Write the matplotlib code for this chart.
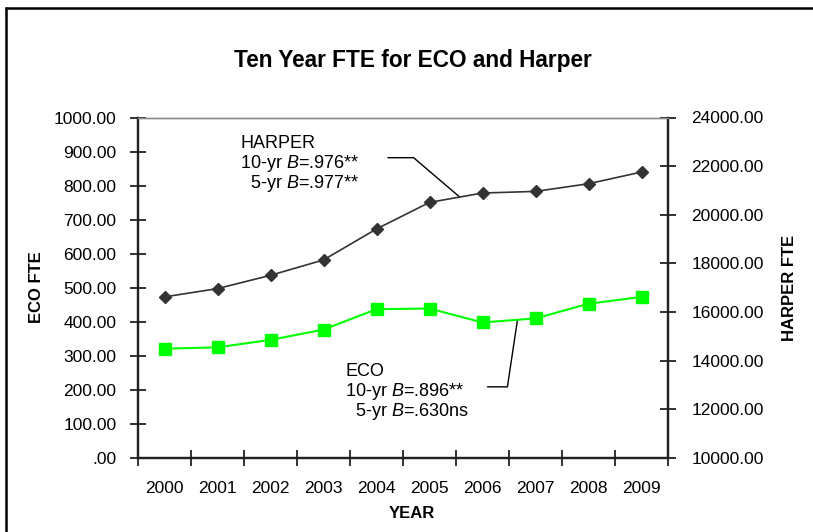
import matplotlib
matplotlib.use("Agg")
import matplotlib.pyplot as plt
from matplotlib.ticker import FuncFormatter, FixedLocator
from matplotlib.lines import Line2D
import numpy as np

plt.rcParams['font.family'] = ['Liberation Sans', 'DejaVu Sans']
plt.rcParams['mathtext.fontset'] = 'custom'
plt.rcParams['mathtext.rm'] = 'Liberation Sans'
plt.rcParams['mathtext.it'] = 'Liberation Sans:italic'

# ---- data ----
years = ['2000', '2001', '2002', '2003', '2004', '2005', '2006', '2007', '2008', '2009']
eco_fte = [321, 325, 347, 377, 437, 439, 398, 410, 453, 473]
harper_fte = [16624, 16965, 17511, 18144, 19417, 20509, 20895, 20961, 21277, 21758]
eco_ticks = [0, 100, 200, 300, 400, 500, 600, 700, 800, 900, 1000]
harper_ticks = [10000, 12000, 14000, 16000, 18000, 20000, 22000, 24000]
title = 'Ten Year FTE for ECO and Harper'
harper_note = ['HARPER', '10-yr $\\mathit{B}$=.976**', '  5-yr $\\mathit{B}$=.977**']
eco_note = ['ECO', '10-yr $\\mathit{B}$=.896**', '  5-yr $\\mathit{B}$=.630ns']

W, H = 813, 532
fig = plt.figure(figsize=(W / 100, H / 100), dpi=100)
ax_l, ax_r, ax_t, ax_b = 138, 668, 117.5, 458
ax = fig.add_axes([ax_l / W, 1 - ax_b / H, (ax_r - ax_l) / W, (ax_b - ax_t) / H])
ax2 = ax.twinx()

x = np.arange(len(years))

def fmt(v, pos=None):
    s = f"{v:.2f}"
    if s.startswith("0."):
        s = s[1:]
    return s

# ECO (left axis)
ax.plot(x, eco_fte, color='#00ff00', lw=1.5, marker='s', ms=8,
        markerfacecolor='#00ff00', markeredgecolor='#00ff00', zorder=3)
# Harper (right axis)
ax2.plot(x, harper_fte, color='#333333', lw=1.2, marker='D', ms=6.5,
         markerfacecolor='#333333', markeredgecolor='#333333', zorder=3)

ax.set_xlim(-0.5, len(years) - 0.5)
ax.set_ylim(eco_ticks[0], eco_ticks[-1])
ax2.set_ylim(harper_ticks[0], harper_ticks[-1])
ax.set_yticks(eco_ticks)
ax2.set_yticks(harper_ticks)
ax.yaxis.set_major_formatter(FuncFormatter(fmt))
ax2.yaxis.set_major_formatter(FuncFormatter(fmt))

# x: tick marks between categories, labels at category centres
ax.xaxis.set_major_locator(FixedLocator(np.arange(-0.5, len(years), 1.0)))
ax.set_xticklabels([])
ax.set_xticks(x, years, minor=True)
ax.tick_params(axis='x', which='major', direction='inout', length=11, width=1.3, color='#222222')
ax.tick_params(axis='x', which='minor', length=0, pad=16.5, labelsize=12.5)
ax.tick_params(axis='y', direction='inout', length=11, width=1.3, color='#222222', pad=10, labelsize=12.5)
ax2.tick_params(axis='y', direction='inout', length=11, width=1.3, color='#222222', pad=11.5, labelsize=12.5)

for a in (ax, ax2):
    for side in ('left', 'right', 'bottom'):
        a.spines[side].set_color('#222222')
        a.spines[side].set_linewidth(1.6)
    a.spines['top'].set_color('#8c8c8c')
    a.spines['top'].set_linewidth(1.0)

# titles / axis labels
fig.text(413 / W, 1 - 61 / H, title, ha='center', va='center', fontsize=16.3, fontweight='bold')
fig.text(36.5 / W, 1 - 287 / H, 'ECO FTE', rotation=90, ha='center', va='center', fontsize=12, fontweight='bold')
fig.text(789 / W, 1 - 288 / H, 'HARPER FTE', rotation=90, ha='center', va='center', fontsize=12, fontweight='bold')
fig.text(412 / W, 1 - 513 / H, 'YEAR', ha='center', va='center', fontsize=12, fontweight='bold')

# annotation texts
for line, y in zip(harper_note, [144, 163.7, 183.3]):
    fig.text(240 / W, 1 - y / H, line, ha='left', va='center', fontsize=13)
for line, y in zip(eco_note, [371.4, 391, 411.7]):
    fig.text(345 / W, 1 - y / H, line, ha='left', va='center', fontsize=13)

# leader lines (in ECO-axis data coordinates)
def harper_on_left(v):
    return (v - harper_ticks[0]) / (harper_ticks[-1] - harper_ticks[0]) * (eco_ticks[-1] - eco_ticks[0])

hx = 5.57
hy = harper_on_left(np.interp(hx, x, harper_fte))
ax.plot([4.22, 4.70, hx], [882, 882, hy], color='black', lw=1.0, zorder=2)

ex = 6.66
ey = np.interp(ex, x, eco_fte)
ax.plot([6.10, 6.47, ex], [209, 209, ey], color='black', lw=1.0, zorder=2)

# outer frame: only the top and left edges are visible in the reference
fx, fy = 6 / W, 1 - 8 / H
fig.add_artist(Line2D([fx, fx], [-0.05, fy + 0.9 / H], transform=fig.transFigure,
                      color='black', lw=1.8, solid_capstyle='butt'))
fig.add_artist(Line2D([fx - 0.9 / W, 1.05], [fy, fy], transform=fig.transFigure,
                      color='black', lw=1.8, solid_capstyle='butt'))

fig.savefig('out.png', dpi=100)
